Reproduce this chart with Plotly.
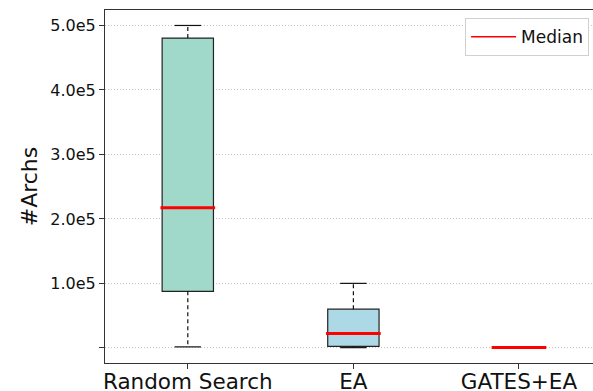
import plotly.graph_objects as go

categories = ["Random Search", "EA", "GATES+EA"]
lower_whisker = [1500, 300, 0]
q1 = [87600, 2200, 300]
median = [217200, 22100, 600]
q3 = [480500, 60000, 900]
upper_whisker = [500000, 100000, 1200]
box_colors = ["#a0d9c9", "#add8e6", "#add8e6"]
ytick_vals = [0, 100000, 200000, 300000, 400000, 500000]
ytick_text = ["", "1.0e5", "2.0e5", "3.0e5", "4.0e5", "5.0e5"]

BOX_W = 0.31
CAP_W = 0.16
FONT = "DejaVu Sans"

fig = go.Figure()
xs = list(range(len(categories)))

for i in xs:
    fig.add_trace(go.Box(
        x=[i], q1=[q1[i]], median=[median[i]], q3=[q3[i]],
        lowerfence=[q1[i]], upperfence=[q3[i]],
        width=BOX_W, fillcolor=box_colors[i],
        line=dict(color="#222222", width=1.2), whiskerwidth=0,
        boxpoints=False, showlegend=False, hoverinfo="skip",
    ))
    # dashed whiskers
    fig.add_trace(go.Scatter(
        x=[i, i, None, i, i], y=[q3[i], upper_whisker[i], None, q1[i], lower_whisker[i]],
        mode="lines", line=dict(color="#111111", width=1.2, dash="4px,3px"),
        showlegend=False, hoverinfo="skip",
    ))
    # caps
    fig.add_trace(go.Scatter(
        x=[i - CAP_W / 2, i + CAP_W / 2, None, i - CAP_W / 2, i + CAP_W / 2],
        y=[upper_whisker[i], upper_whisker[i], None, lower_whisker[i], lower_whisker[i]],
        mode="lines", line=dict(color="#111111", width=1.2),
        showlegend=False, hoverinfo="skip",
    ))

# median lines
mx, my = [], []
for i in xs:
    mx += [i - BOX_W / 2 - 0.01, i + BOX_W / 2 + 0.01, None]
    my += [median[i], median[i], None]
fig.add_trace(go.Scatter(
    x=mx, y=my, mode="lines", line=dict(color="#ff0000", width=3),
    name="Median", showlegend=False, hoverinfo="skip",
))
# legend entry (thin line as in reference)
fig.add_trace(go.Scatter(
    x=[None], y=[None], mode="lines", line=dict(color="#ff0000", width=1.5),
    name="Median",
))

fig.update_layout(
    width=593, height=391,
    margin=dict(l=105, r=0, t=10, b=28),
    paper_bgcolor="white", plot_bgcolor="white",
    font=dict(family=FONT, color="#111111"),
    showlegend=True,
    legend=dict(
        x=0.992, y=0.977, xanchor="right", yanchor="top",
        bgcolor="white", bordercolor="#d0d0d0", borderwidth=1,
        font=dict(size=17, family=FONT), itemwidth=45,
    ),
    xaxis=dict(
        range=[-0.5, 2.447], tickmode="array", tickvals=xs, ticktext=categories,
        tickfont=dict(size=21.5), ticks="outside", ticklen=5, tickcolor="#333333",
        showline=True, linecolor="#333333", linewidth=1, mirror=True,
        showgrid=False, zeroline=False, automargin=False, ticklabelstandoff=-6,
    ),
    yaxis=dict(
        range=[-23500, 524000], tickmode="array", tickvals=ytick_vals, ticktext=ytick_text,
        tickfont=dict(size=16), ticks="outside", ticklen=5, tickcolor="#333333",
        showline=True, linecolor="#333333", linewidth=1,
        showgrid=True, gridcolor="#c4c4c4", griddash="1px,2px", gridwidth=1,
        zeroline=False, automargin=False,
        title=dict(text="#Archs", font=dict(size=22), standoff=6),
    ),
)

fig.write_html("out.html", config={"displayModeBar": False},
               post_script="document.body.style.margin='0';")
